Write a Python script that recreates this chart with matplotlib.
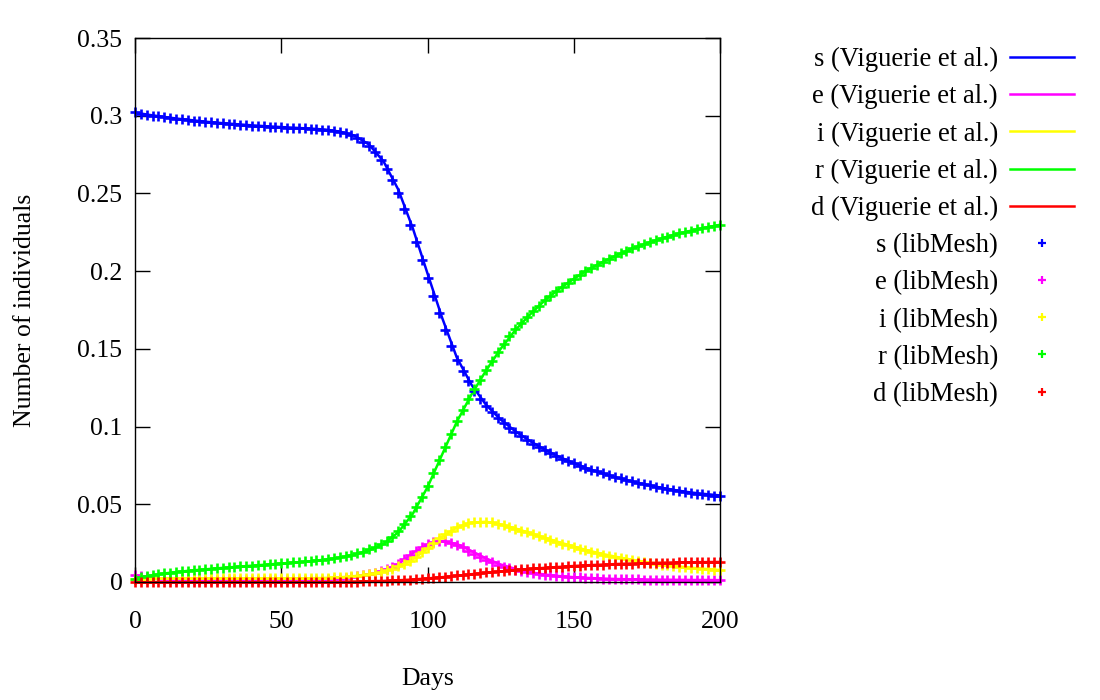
import matplotlib
matplotlib.use("Agg")
import matplotlib.pyplot as plt
import numpy as np

plt.rcParams['font.family'] = ['Liberation Serif', 'DejaVu Serif']

# ---------------- data ----------------
# Viguerie et al. reference curves (every 5 days)
days_line = list(range(0, 201, 5))
s_line = [0.3020, 0.3005, 0.2992, 0.2980, 0.2970, 0.2960, 0.2952, 0.2945, 0.2938, 0.2932,
          0.2927, 0.2922, 0.2917, 0.2911, 0.2898, 0.2872, 0.2815, 0.2705, 0.2525, 0.2275,
          0.1985, 0.1700, 0.1445, 0.1270, 0.1140, 0.1045, 0.0970, 0.0907, 0.0853, 0.0805,
          0.0765, 0.0728, 0.0698, 0.0670, 0.0646, 0.0625, 0.0606, 0.0590, 0.0576, 0.0566,
          0.0557]
e_line = [0.0045, 0.0030, 0.0020, 0.0015, 0.0012, 0.0010, 0.0010, 0.0010, 0.0010, 0.0010,
          0.0010, 0.0011, 0.0012, 0.0015, 0.0021, 0.0032, 0.0045, 0.0072, 0.0115, 0.0185,
          0.0240, 0.0262, 0.0245, 0.0200, 0.0152, 0.0113, 0.0085, 0.0063, 0.0048, 0.0038,
          0.0031, 0.0026, 0.0022, 0.0019, 0.0017, 0.0016, 0.0015, 0.0014, 0.0013, 0.0013,
          0.0012]
i_line = [0.0020, 0.0022, 0.0023, 0.0023, 0.0023, 0.0023, 0.0023, 0.0023, 0.0023, 0.0023,
          0.0023, 0.0023, 0.0024, 0.0026, 0.0030, 0.0038, 0.0050, 0.0068, 0.0095, 0.0145,
          0.0215, 0.0290, 0.0350, 0.0382, 0.0388, 0.0370, 0.0345, 0.0315, 0.0285, 0.0256,
          0.0228, 0.0202, 0.0180, 0.0160, 0.0143, 0.0128, 0.0114, 0.0102, 0.0092, 0.0084,
          0.0077]
r_line = [0.0020, 0.0040, 0.0055, 0.0066, 0.0075, 0.0083, 0.0091, 0.0098, 0.0105, 0.0112,
          0.0119, 0.0126, 0.0134, 0.0144, 0.0157, 0.0176, 0.0203, 0.0245, 0.0320, 0.0440,
          0.0610, 0.0820, 0.1030, 0.1205, 0.1360, 0.1500, 0.1620, 0.1720, 0.1810, 0.1885,
          0.1950, 0.2010, 0.2060, 0.2105, 0.2145, 0.2180, 0.2210, 0.2238, 0.2260, 0.2280,
          0.2298]
d_line = [0.0000, 0.0000, 0.0000, 0.0000, 0.0000, 0.0000, 0.0000, 0.0000, 0.0000, 0.0000,
          0.0000, 0.0001, 0.0001, 0.0002, 0.0002, 0.0003, 0.0005, 0.0007, 0.0011, 0.0016,
          0.0023, 0.0031, 0.0040, 0.0050, 0.0059, 0.0068, 0.0076, 0.0084, 0.0091, 0.0097,
          0.0103, 0.0108, 0.0112, 0.0116, 0.0119, 0.0122, 0.0124, 0.0126, 0.0127, 0.0128,
          0.0129]

# libMesh results (every 2 days)
days_pts = list(range(0, 201, 2))
s_pts = [0.3025, 0.3012, 0.3006, 0.3001, 0.2996, 0.2991, 0.2986, 0.2981, 0.2977, 0.2973,
         0.2969, 0.2965, 0.2961, 0.2957, 0.2954, 0.2951, 0.2948, 0.2945, 0.2942, 0.2939,
         0.2937, 0.2934, 0.2932, 0.2930, 0.2928, 0.2926, 0.2924, 0.2922, 0.2920, 0.2918,
         0.2916, 0.2914, 0.2911, 0.2907, 0.2902, 0.2896, 0.2887, 0.2875, 0.2857, 0.2834,
         0.2806, 0.2765, 0.2717, 0.2657, 0.2586, 0.2500, 0.2402, 0.2300, 0.2190, 0.2073,
         0.1956, 0.1842, 0.1729, 0.1622, 0.1520, 0.1427, 0.1358, 0.1290, 0.1231, 0.1180,
         0.1130, 0.1093, 0.1055, 0.1023, 0.0993, 0.0964, 0.0939, 0.0914, 0.0891, 0.0870,
         0.0848, 0.0829, 0.0811, 0.0794, 0.0778, 0.0763, 0.0749, 0.0736, 0.0723, 0.0711,
         0.0699, 0.0688, 0.0677, 0.0667, 0.0657, 0.0647, 0.0638, 0.0629, 0.0621, 0.0613,
         0.0605, 0.0598, 0.0591, 0.0585, 0.0579, 0.0573, 0.0568, 0.0564, 0.0560, 0.0556,
         0.0553]
e_pts = [0.0048, 0.0040, 0.0033, 0.0028, 0.0024, 0.0020, 0.0018, 0.0016, 0.0014, 0.0013,
         0.0012, 0.0011, 0.0011, 0.0010, 0.0010, 0.0010, 0.0010, 0.0010, 0.0010, 0.0010,
         0.0010, 0.0010, 0.0010, 0.0010, 0.0010, 0.0010, 0.0010, 0.0011, 0.0011, 0.0012,
         0.0012, 0.0013, 0.0015, 0.0017, 0.0019, 0.0022, 0.0026, 0.0031, 0.0036, 0.0042,
         0.0049, 0.0058, 0.0069, 0.0082, 0.0097, 0.0118, 0.0145, 0.0173, 0.0200, 0.0224,
         0.0243, 0.0256, 0.0262, 0.0261, 0.0254, 0.0240, 0.0222, 0.0202, 0.0182, 0.0162,
         0.0143, 0.0126, 0.0112, 0.0099, 0.0088, 0.0078, 0.0070, 0.0063, 0.0057, 0.0051,
         0.0046, 0.0042, 0.0039, 0.0036, 0.0033, 0.0031, 0.0029, 0.0027, 0.0025, 0.0023,
         0.0022, 0.0021, 0.0020, 0.0019, 0.0018, 0.0017, 0.0017, 0.0016, 0.0016, 0.0015,
         0.0015, 0.0015, 0.0014, 0.0014, 0.0014, 0.0013, 0.0013, 0.0013, 0.0013, 0.0012,
         0.0012]
i_pts = [0.0020, 0.0021, 0.0022, 0.0023, 0.0023, 0.0023, 0.0023, 0.0023, 0.0023, 0.0023,
         0.0023, 0.0023, 0.0023, 0.0023, 0.0023, 0.0023, 0.0023, 0.0023, 0.0023, 0.0023,
         0.0023, 0.0023, 0.0023, 0.0023, 0.0023, 0.0023, 0.0023, 0.0023, 0.0023, 0.0024,
         0.0024, 0.0025, 0.0026, 0.0027, 0.0029, 0.0031, 0.0034, 0.0037, 0.0041, 0.0046,
         0.0052, 0.0059, 0.0066, 0.0075, 0.0086, 0.0100, 0.0117, 0.0138, 0.0162, 0.0190,
         0.0220, 0.0250, 0.0280, 0.0307, 0.0331, 0.0352, 0.0367, 0.0379, 0.0386, 0.0389,
         0.0388, 0.0384, 0.0376, 0.0366, 0.0355, 0.0343, 0.0331, 0.0319, 0.0307, 0.0295,
         0.0283, 0.0271, 0.0259, 0.0247, 0.0236, 0.0225, 0.0214, 0.0204, 0.0194, 0.0185,
         0.0176, 0.0168, 0.0160, 0.0153, 0.0146, 0.0140, 0.0134, 0.0128, 0.0122, 0.0117,
         0.0112, 0.0107, 0.0103, 0.0099, 0.0095, 0.0091, 0.0088, 0.0085, 0.0082, 0.0079,
         0.0077]
r_pts = [0.0022, 0.0030, 0.0038, 0.0044, 0.0050, 0.0055, 0.0060, 0.0065, 0.0069, 0.0072,
         0.0076, 0.0079, 0.0082, 0.0085, 0.0088, 0.0091, 0.0094, 0.0097, 0.0100, 0.0103,
         0.0106, 0.0109, 0.0111, 0.0114, 0.0117, 0.0120, 0.0123, 0.0126, 0.0129, 0.0132,
         0.0135, 0.0139, 0.0143, 0.0148, 0.0153, 0.0159, 0.0166, 0.0174, 0.0184, 0.0196,
         0.0210, 0.0225, 0.0243, 0.0265, 0.0292, 0.0326, 0.0370, 0.0422, 0.0482, 0.0548,
         0.0620, 0.0703, 0.0786, 0.0870, 0.0955, 0.1035, 0.1105, 0.1175, 0.1240, 0.1302,
         0.1365, 0.1423, 0.1479, 0.1532, 0.1580, 0.1625, 0.1666, 0.1705, 0.1742, 0.1778,
         0.1812, 0.1843, 0.1872, 0.1900, 0.1926, 0.1951, 0.1975, 0.1998, 0.2020, 0.2041,
         0.2061, 0.2080, 0.2098, 0.2115, 0.2131, 0.2146, 0.2160, 0.2174, 0.2187, 0.2199,
         0.2211, 0.2222, 0.2233, 0.2243, 0.2252, 0.2261, 0.2270, 0.2278, 0.2286, 0.2293,
         0.2300]
d_pts = [0.0000, 0.0000, 0.0000, 0.0000, 0.0000, 0.0000, 0.0000, 0.0000, 0.0000, 0.0000,
         0.0000, 0.0000, 0.0000, 0.0000, 0.0000, 0.0000, 0.0000, 0.0000, 0.0000, 0.0000,
         0.0000, 0.0000, 0.0000, 0.0000, 0.0000, 0.0001, 0.0001, 0.0001, 0.0001, 0.0001,
         0.0001, 0.0002, 0.0002, 0.0002, 0.0002, 0.0002, 0.0002, 0.0003, 0.0003, 0.0004,
         0.0005, 0.0006, 0.0007, 0.0008, 0.0010, 0.0012, 0.0014, 0.0016, 0.0018, 0.0021,
         0.0024, 0.0027, 0.0030, 0.0034, 0.0038, 0.0042, 0.0046, 0.0050, 0.0054, 0.0058,
         0.0062, 0.0065, 0.0069, 0.0072, 0.0075, 0.0078, 0.0081, 0.0084, 0.0087, 0.0089,
         0.0092, 0.0094, 0.0096, 0.0099, 0.0101, 0.0103, 0.0105, 0.0107, 0.0109, 0.0111,
         0.0112, 0.0114, 0.0115, 0.0117, 0.0118, 0.0119, 0.0120, 0.0121, 0.0122, 0.0123,
         0.0124, 0.0124, 0.0125, 0.0126, 0.0126, 0.0127, 0.0127, 0.0128, 0.0128, 0.0128,
         0.0129]

series_names = ['s', 'e', 'i', 'r', 'd']
series_colors = ['#0000ff', '#ff00ff', '#ffff00', '#00ff00', '#ff0000']
line_data = [s_line, e_line, i_line, r_line, d_line]
pts_data = [s_pts, e_pts, i_pts, r_pts, d_pts]

x_ticks = [0, 50, 100, 150, 200]
y_ticks = [0, 0.05, 0.1, 0.15, 0.2, 0.25, 0.3, 0.35]
y_tick_labels = ['0', '0.05', '0.1', '0.15', '0.2', '0.25', '0.3', '0.35']

# ---------------- figure ----------------
FS = 18.5
LFS = 19.2
fig = plt.figure(figsize=(11, 7), dpi=100)
ax = fig.add_axes([135 / 1100, 1 - 582 / 700, 585 / 1100, 544 / 700])

handles = []
for name, col, yv in zip(series_names, series_colors, line_data):
    h, = ax.plot(days_line, yv, color=col, lw=1.8, label=f'{name} (Viguerie et al.)',
                 solid_joinstyle='round')
    handles.append(h)
for name, col, yv in zip(series_names, series_colors, pts_data):
    h, = ax.plot(days_pts, yv, linestyle='none', marker='+', color=col,
                 markersize=7.0, markeredgewidth=1.9, label=f'{name} (libMesh)',
                 clip_on=False)
    handles.append(h)

ax.set_xlim(0, 200)
ax.set_ylim(0, 0.35)
ax.set_xticks(x_ticks)
ax.set_xticklabels([str(v) for v in x_ticks])
ax.set_yticks(y_ticks)
ax.set_yticklabels(y_tick_labels)
ax.tick_params(axis='both', which='both', direction='in', length=10.5, width=1.0,
               top=True, right=True, labelsize=FS, colors='black')
ax.tick_params(axis='x', pad=21)
ax.tick_params(axis='y', pad=9)
for sp in ax.spines.values():
    sp.set_linewidth(1.0)

ax.set_xlabel('Days', fontsize=FS)
ax.set_ylabel('Number of individuals', fontsize=FS)
ax.xaxis.set_label_coords(0.5, (582 - 668) / 544)
ax.yaxis.set_label_coords((36 - 135) / 585, 0.5)

leg = fig.legend(handles=handles, loc='upper right',
                 bbox_to_anchor=(1074 / 1100, 1 - 47 / 700),
                 bbox_transform=fig.transFigure,
                 frameon=False, fontsize=LFS, markerfirst=False,
                 handlelength=2.4, handletextpad=0.45, labelspacing=0.455,
                 borderpad=0, borderaxespad=0)
for lh in leg.legend_handles[5:]:
    lh.set_markersize(6.0)
    lh.set_markeredgewidth(1.6)
try:
    for col in leg._legend_handle_box.get_children():
        col.align = 'right'
except Exception:
    pass

fig.savefig('out.png', dpi=100)
